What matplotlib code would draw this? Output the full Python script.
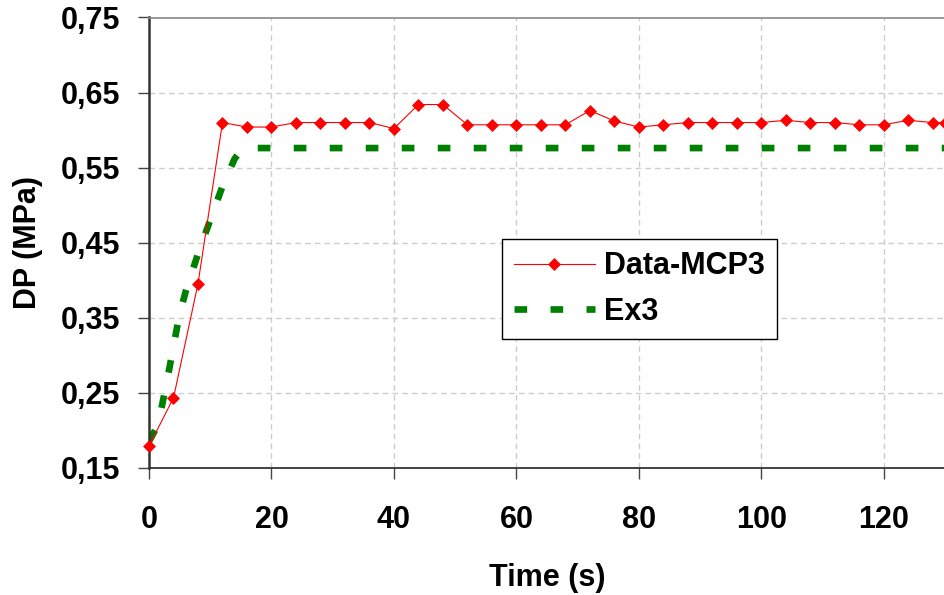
import matplotlib
matplotlib.use("Agg")
import matplotlib.pyplot as plt

plt.rcParams['font.family'] = ['Liberation Sans', 'DejaVu Sans']

# measured pressure drop
t_mcp = [0, 4, 8, 12, 16, 20, 24, 28, 32, 36, 40, 44, 48, 52, 56, 60, 64, 68,
         72, 76, 80, 84, 88, 92, 96, 100, 104, 108, 112, 116, 120, 124, 128, 130]
dp_mcp = [0.179, 0.243, 0.395, 0.610, 0.604, 0.604, 0.610, 0.610, 0.610, 0.610,
          0.602, 0.634, 0.634, 0.607, 0.607, 0.607, 0.607, 0.607, 0.626, 0.612,
          0.604, 0.607, 0.610, 0.610, 0.610, 0.610, 0.613, 0.610, 0.610, 0.607,
          0.607, 0.613, 0.610, 0.610]

# Ex3 curve
t_ex = [0, 1, 2, 3, 4, 5, 6, 8, 10, 12, 14, 15, 16, 130]
dp_ex = [0.185, 0.200, 0.228, 0.268, 0.312, 0.355, 0.385, 0.435, 0.480, 0.525,
         0.562, 0.572, 0.576, 0.576]

xticks = [0, 20, 40, 60, 80, 100, 120]
yticks = [0.15, 0.25, 0.35, 0.45, 0.55, 0.65, 0.75]

fig = plt.figure(figsize=(9.45, 5.95), dpi=100)
ax = fig.add_axes([149/945, 1 - 467.7/595, 1 - 149/945, 450.2/595])

ax.plot(t_ex, dp_ex, color='#008000', linewidth=4.8, linestyle=(0, (1.9, 3.5)),
        dash_capstyle='butt', label='Ex3', zorder=2)
ax.plot(t_mcp, dp_mcp, color='#ff0000', linewidth=0.8, marker='D', markersize=6,
        markeredgewidth=0.5, label='Data-MCP3', zorder=3, clip_on=False)

ax.set_xlim(0, 130)
ax.set_ylim(0.15, 0.75)
ax.set_xticks(xticks)
ax.set_yticks(yticks)
ax.set_yticklabels([f'{v:.2f}'.replace('.', ',') for v in yticks])

ax.grid(True, color='#cccccc', linestyle=(0, (4, 3)), linewidth=1)
ax.set_axisbelow(True)

ax.spines['right'].set_visible(False)
ax.spines['top'].set_color('#888888')
ax.spines['top'].set_linewidth(1.2)
ax.spines['left'].set_color('#333333')
ax.spines['left'].set_linewidth(1.8)
ax.spines['bottom'].set_color('#333333')
ax.spines['bottom'].set_linewidth(1.3)

ax.tick_params(direction='out', length=8, width=1, color='#444444', labelsize=22)
ax.tick_params(axis='x', pad=19)
ax.tick_params(axis='y', pad=12.5)
for lab in ax.get_xticklabels() + ax.get_yticklabels():
    lab.set_fontweight('bold')

ax.set_xlabel('Time (s)', fontsize=22, fontweight='bold', labelpad=20)
ax.set_ylabel('DP (MPa)', fontsize=22, fontweight='bold', labelpad=13)

h, l = ax.get_legend_handles_labels()
leg = ax.legend(h[::-1], l[::-1], loc='upper left',
                bbox_to_anchor=(501.7/945, 1 - 239/595), bbox_transform=fig.transFigure,
                prop={'weight': 'bold', 'size': 22}, frameon=True,
                fancybox=False, edgecolor='black', framealpha=1,
                handlelength=2.65, borderpad=0.4, labelspacing=0.5, handletextpad=0.3,
                borderaxespad=0)
leg.get_frame().set_linewidth(1)

fig.savefig('out.png', dpi=100)
